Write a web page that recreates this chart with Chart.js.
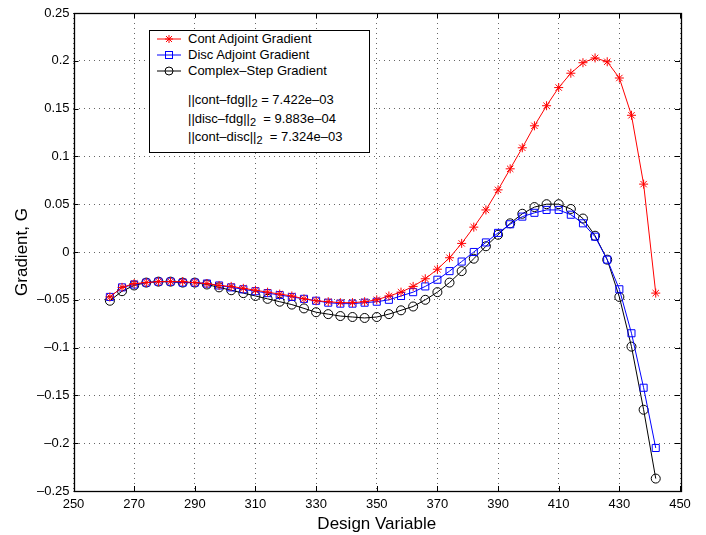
<!DOCTYPE html>
<html>
<head>
<meta charset="utf-8">
<script src="https://cdn.jsdelivr.net/npm/chart.js@4/dist/chart.umd.min.js"></script>
<style>
	html, body { margin: 0; padding: 0; background: #fff; }
	#wrap { position: relative; width: 706px; height: 535px; font-family: "Liberation Sans", Arial, sans-serif; }
	#grafico { position: absolute; left: 0; top: 0; }
	#legenda { position: absolute; left: 149px; top: 30px; width: 219px; height: 121px; border: 1.5px solid #000; background: #fff; color: #000; font-size: 13px; }
	.linha { position: absolute; left: 38px; height: 14px; line-height: 14px; white-space: nowrap; }
	.marca { position: absolute; left: 6px; width: 26px; height: 14px; }
	.linha sub { font-size: 11px; position: relative; top: 3px; vertical-align: baseline; }
</style>
</head>
<body>
<div id="wrap">
	<canvas id="grafico" width="706" height="535"></canvas>
	<div id="legenda">
		<svg class="marca" style="top:1px" viewBox="0 0 26 14"><line x1="1" y1="7" x2="25" y2="7" stroke="red" stroke-width="1"/><g stroke="red" stroke-width="1"><line x1="13" y1="3" x2="13" y2="11"/><line x1="9" y1="7" x2="17" y2="7"/><line x1="10" y1="4" x2="16" y2="10"/><line x1="10" y1="10" x2="16" y2="4"/></g></svg>
		<div class="linha" style="top:1px">Cont Adjoint Gradient</div>
		<svg class="marca" style="top:17px" viewBox="0 0 26 14"><line x1="1" y1="7" x2="25" y2="7" stroke="blue" stroke-width="1"/><rect x="9.5" y="3.5" width="7" height="7" fill="none" stroke="blue" stroke-width="1"/></svg>
		<div class="linha" style="top:17px">Disc Adjoint Gradient</div>
		<svg class="marca" style="top:33px" viewBox="0 0 26 14"><line x1="1" y1="7" x2="25" y2="7" stroke="#000" stroke-width="1"/><circle cx="13" cy="7" r="4" fill="none" stroke="#000" stroke-width="1"/></svg>
		<div class="linha" style="top:33px">Complex&#8211;Step Gradient</div>
		<div class="linha" style="top:62px">||cont&#8211;fdg||<sub>2</sub> = 7.422e&#8211;03</div>
		<div class="linha" style="top:81px">||disc&#8211;fdg||<sub>2</sub> &nbsp;= 9.883e&#8211;04</div>
		<div class="linha" style="top:99px">||cont&#8211;disc||<sub>2</sub> &nbsp;= 7.324e&#8211;03</div>
	</div>
</div>
<script>
(function() {

	// variavel de projeto
	var variaveis = [262, 266, 270, 274, 278, 282, 286, 290, 294, 298,
		302, 306, 310, 314, 318, 322, 326, 330, 334, 338,
		342, 346, 350, 354, 358, 362, 366, 370, 374, 378,
		382, 386, 390, 394, 398, 402, 406, 410, 414, 418,
		422, 426, 430, 434, 438, 442];

	var gradienteCont = [-0.047, -0.037, -0.033, -0.032, -0.031, -0.031, -0.031, -0.032, -0.033, -0.035,
		-0.036, -0.038, -0.040, -0.042, -0.044, -0.046, -0.049, -0.051, -0.052, -0.053,
		-0.053, -0.052, -0.050, -0.046, -0.042, -0.036, -0.028, -0.018, -0.006, 0.009,
		0.026, 0.044, 0.065, 0.087, 0.109, 0.132, 0.153, 0.172, 0.187, 0.198,
		0.203, 0.199, 0.182, 0.143, 0.071, -0.043];

	var gradienteDisc = [-0.047, -0.037, -0.034, -0.032, -0.031, -0.031, -0.032, -0.032, -0.033, -0.035,
		-0.037, -0.039, -0.041, -0.043, -0.045, -0.047, -0.049, -0.051, -0.053, -0.054,
		-0.054, -0.053, -0.052, -0.050, -0.046, -0.042, -0.036, -0.029, -0.020, -0.010,
		0.000, 0.010, 0.020, 0.029, 0.037, 0.041, 0.044, 0.044, 0.039, 0.030,
		0.016, -0.008, -0.039, -0.085, -0.142, -0.205];

	var gradienteComplexo = [-0.051, -0.041, -0.035, -0.032, -0.031, -0.031, -0.032, -0.032, -0.034, -0.037,
		-0.040, -0.043, -0.046, -0.049, -0.052, -0.055, -0.059, -0.063, -0.065, -0.067,
		-0.068, -0.069, -0.068, -0.065, -0.061, -0.057, -0.050, -0.042, -0.032, -0.020,
		-0.007, 0.006, 0.018, 0.030, 0.040, 0.047, 0.050, 0.050, 0.045, 0.035,
		0.017, -0.008, -0.047, -0.099, -0.165, -0.237];

	var ticksX = [250, 270, 290, 310, 330, 350, 370, 390, 410, 430, 450];
	var ticksY = [-0.25, -0.2, -0.15, -0.1, -0.05, 0, 0.05, 0.1, 0.15, 0.2, 0.25];

	function pontos(ys) {
		return variaveis.map(function(x, i) { return {x: x, y: ys[i]}; });
	}

	function rotulo(v) {
		var s = String(Math.round(v * 100) / 100);
		return s.replace('-', '\u2013');
	}

	// caixa e ticks para dentro, estilo matlab
	var moldura = {
		id: 'moldura',
		afterDraw: function(chart) {
			var ctx = chart.ctx;
			var a = chart.chartArea;
			var sx = chart.scales.x, sy = chart.scales.y;
			ctx.save();
			ctx.strokeStyle = '#000';
			ctx.lineWidth = 1;
			ctx.beginPath();
			ticksX.forEach(function(t) {
				var px = Math.round(sx.getPixelForValue(t)) + 0.5;
				ctx.moveTo(px, a.bottom); ctx.lineTo(px, a.bottom - 5);
				ctx.moveTo(px, a.top); ctx.lineTo(px, a.top + 5);
			});
			ticksY.forEach(function(t) {
				var py = Math.round(sy.getPixelForValue(t)) + 0.5;
				ctx.moveTo(a.left, py); ctx.lineTo(a.left + 5, py);
				ctx.moveTo(a.right, py); ctx.lineTo(a.right - 5, py);
			});
			ctx.stroke();
			ctx.lineWidth = 1.3;
			ctx.strokeRect(Math.round(a.left) + 0.5, Math.round(a.top) + 0.5, Math.round(a.right - a.left), Math.round(a.bottom - a.top));
			ctx.restore();
		}
	};

	function construirGrafico() {
		var ctx = document.getElementById('grafico');
		var fonte = '"Liberation Sans", Arial, sans-serif';
		new Chart(ctx, {
			type: 'line',
			data: {
				datasets: [
				{
					label: 'Cont Adjoint Gradient',
					data: pontos(gradienteCont),
					borderColor: 'red',
					backgroundColor: 'red',
					borderWidth: 1,
					pointStyle: 'star',
					pointRadius: 4.5,
					pointBorderWidth: 1,
					tension: 0
				},
				{
					label: 'Disc Adjoint Gradient',
					data: pontos(gradienteDisc),
					borderColor: 'blue',
					backgroundColor: 'rgba(0,0,0,0)',
					borderWidth: 1,
					pointStyle: 'rect',
					pointRadius: 5,
					pointBorderWidth: 1,
					tension: 0
				},
				{
					label: 'Complex-Step Gradient',
					data: pontos(gradienteComplexo),
					borderColor: '#000',
					backgroundColor: 'rgba(0,0,0,0)',
					borderWidth: 1,
					pointStyle: 'circle',
					pointRadius: 4.5,
					pointBorderWidth: 1,
					tension: 0
				}]
			},
			options: {
				responsive: false,
				animation: false,
				devicePixelRatio: 1,
				layout: { padding: { left: 0, top: 13, right: 26, bottom: 0 } },
				plugins: { legend: { display: false }, tooltip: { enabled: false } },
				scales: {
					x: {
						type: 'linear',
						min: 250,
						max: 450,
						afterBuildTicks: function(scale) {
							scale.ticks = ticksX.map(function(v) { return {value: v}; });
						},
						afterFit: function(scale) { scale.height = 44; },
						grid: { color: 'rgba(0,0,0,0.6)', drawTicks: false, lineWidth: 1 },
						border: { display: false, dash: [1, 4] },
						ticks: { color: '#000', padding: 6, maxRotation: 0, font: { family: fonte, size: 13 } },
						title: { display: true, text: 'Design Variable', color: '#000', padding: { top: 2, bottom: 0 }, font: { family: fonte, size: 17 } }
					},
					y: {
						type: 'linear',
						min: -0.25,
						max: 0.25,
						afterBuildTicks: function(scale) {
							scale.ticks = ticksY.map(function(v) { return {value: v}; });
						},
						afterFit: function(scale) { scale.width = 73.5; },
						grid: { color: 'rgba(0,0,0,0.6)', drawTicks: false, lineWidth: 1 },
						border: { display: false, dash: [1, 4] },
						ticks: { color: '#000', padding: 4, callback: rotulo, font: { family: fonte, size: 13 } },
						title: { display: true, text: 'Gradient, G', color: '#000', padding: { top: 12, bottom: 0 }, font: { family: fonte, size: 17 } }
					}
				}
			},
			plugins: [moldura]
		});
	}

	construirGrafico();
})();
</script>
</body>
</html>
